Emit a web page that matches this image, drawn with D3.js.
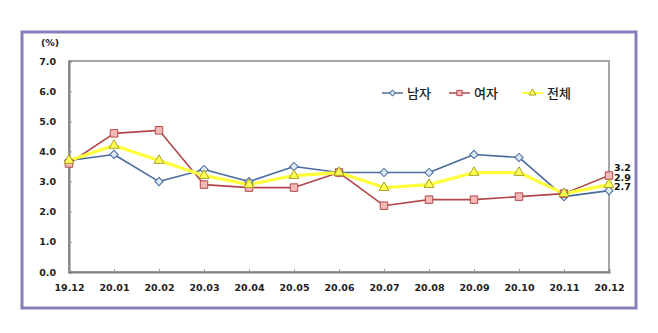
<!DOCTYPE html>
<html>
<head>
<meta charset="utf-8">
<script src="https://cdn.jsdelivr.net/npm/d3@7"></script>
<style>
  html, body { margin: 0; padding: 0; background: #fff; }
  svg { display: block; }
</style>
</head>
<body>
<svg id="chart" width="658" height="333"></svg>
<script>
// Monthly rates (%) by group
const months = ["19.12","20.01","20.02","20.03","20.04","20.05","20.06","20.07","20.08","20.09","20.10","20.11","20.12"];
const male   = [3.7, 3.9, 3.0, 3.4, 3.0, 3.5, 3.3, 3.3, 3.3, 3.9, 3.8, 2.5, 2.7];
const female = [3.6, 4.6, 4.7, 2.9, 2.8, 2.8, 3.3, 2.2, 2.4, 2.4, 2.5, 2.6, 3.2];
const total  = [3.7, 4.2, 3.7, 3.2, 2.9, 3.2, 3.3, 2.8, 2.9, 3.3, 3.3, 2.6, 2.9];
const yTicks = [0, 1, 2, 3, 4, 5, 6, 7];
const seriesNames = ["남자", "여자", "전체"];

const svg = d3.select("#chart");
const plot = { left: 69, top: 61, right: 609, bottom: 272 };

// outer frame
svg.append("rect")
  .attr("x", 22).attr("y", 32).attr("width", 614).attr("height", 276)
  .attr("fill", "#fff").attr("stroke", "#8a7cb8").attr("stroke-width", 3);

const x = d3.scalePoint().domain(months).range([plot.left, plot.right]);
const y = d3.scaleLinear().domain([0, 7]).range([plot.bottom, plot.top]);

// plot area border (light top/right, darker axes)
svg.append("rect")
  .attr("x", plot.left).attr("y", plot.top)
  .attr("width", plot.right - plot.left).attr("height", plot.bottom - plot.top)
  .attr("fill", "#fff").attr("stroke", "#a6a6a6").attr("stroke-width", 2);

const tickFont = "'DejaVu Sans', Verdana, sans-serif";

// y axis
const yAxis = svg.append("g")
  .attr("transform", `translate(${plot.left},0)`)
  .call(d3.axisLeft(y).tickValues(yTicks).tickFormat(d3.format(".1f")).tickSize(-3).tickPadding(13));
yAxis.select(".domain").attr("stroke", "#808080").attr("stroke-width", 2);
yAxis.selectAll(".tick line").attr("stroke", "#999");
yAxis.selectAll(".tick text")
  .attr("font-family", tickFont).attr("font-weight", "bold").attr("font-size", 9.5).attr("fill", "#222");

// x axis
const xAxis = svg.append("g")
  .attr("transform", `translate(0,${plot.bottom})`)
  .call(d3.axisBottom(x).tickSize(-3).tickPadding(12));
xAxis.select(".domain").attr("stroke", "#808080").attr("stroke-width", 2);
xAxis.selectAll(".tick line").attr("stroke", "#999");
xAxis.selectAll(".tick text")
  .attr("font-family", tickFont).attr("font-weight", "bold").attr("font-size", 9.5).attr("fill", "#222");

// unit label
svg.append("text")
  .attr("x", 50).attr("y", 46).attr("text-anchor", "middle")
  .attr("font-family", tickFont).attr("font-weight", "bold").attr("font-size", 9.5).attr("fill", "#222")
  .text("(%)");

const styles = [
  { values: male,   line: "#4a6b9c", width: 1.6, marker: "diamond",  fill: "#dbe8f6", stroke: "#4a6b9c", size: 34, rot: 45 },
  { values: female, line: "#b0484a", width: 1.6, marker: "square",   fill: "#f5b9b9", stroke: "#b0484a", size: 56, rot: 0 },
  { values: total,  line: "#ffff3a", width: 3.2, marker: "triangle", fill: "#ffff5a", stroke: "#a8a020", size: 42, rot: 0 }
];
const symType = { diamond: d3.symbolSquare, square: d3.symbolSquare, triangle: d3.symbolTriangle };

const lineGen = d3.line().x((d, i) => x(months[i])).y(d => y(d));

styles.forEach(s => {
  svg.append("path")
    .attr("d", lineGen(s.values))
    .attr("fill", "none").attr("stroke", s.line).attr("stroke-width", s.width)
    .attr("stroke-linejoin", "round");
});
styles.forEach(s => {
  svg.append("g").selectAll("path")
    .data(s.values)
    .join("path")
    .attr("transform", (d, i) => `translate(${x(months[i])},${y(d)}) rotate(${s.rot})`)
    .attr("d", d3.symbol().type(symType[s.marker]).size(s.size))
    .attr("fill", s.fill).attr("stroke", s.stroke).attr("stroke-width", 1);
});

// last-point value labels
const last = months.length - 1;
const endLabels = [female[last], total[last], male[last]];
endLabels.forEach((v, i) => {
  svg.append("text")
    .attr("x", 614).attr("y", 171 + i * 9.5)
    .attr("font-family", tickFont).attr("font-weight", "bold").attr("font-size", 9.5).attr("fill", "#111")
    .text(d3.format(".1f")(v));
});

// legend
const legendX = [382, 449, 522];
styles.forEach((s, i) => {
  const lg = svg.append("g").attr("transform", `translate(${legendX[i]},93)`);
  lg.append("line").attr("x1", 0).attr("x2", 21).attr("y1", 0).attr("y2", 0)
    .attr("stroke", s.line).attr("stroke-width", s.width > 2 ? 2 : 1.5);
  lg.append("path").attr("transform", `translate(10.5,0) rotate(${s.rot})`)
    .attr("d", d3.symbol().type(symType[s.marker]).size(s.size * 0.5))
    .attr("fill", s.fill).attr("stroke", s.stroke).attr("stroke-width", 1);
  lg.append("text").attr("x", 25).attr("y", 5)
    .attr("font-family", "'Noto Sans CJK KR', sans-serif").attr("font-size", 13).attr("font-weight", 500)
    .attr("fill", "#222")
    .text(seriesNames[i]);
});
</script>
</body>
</html>
